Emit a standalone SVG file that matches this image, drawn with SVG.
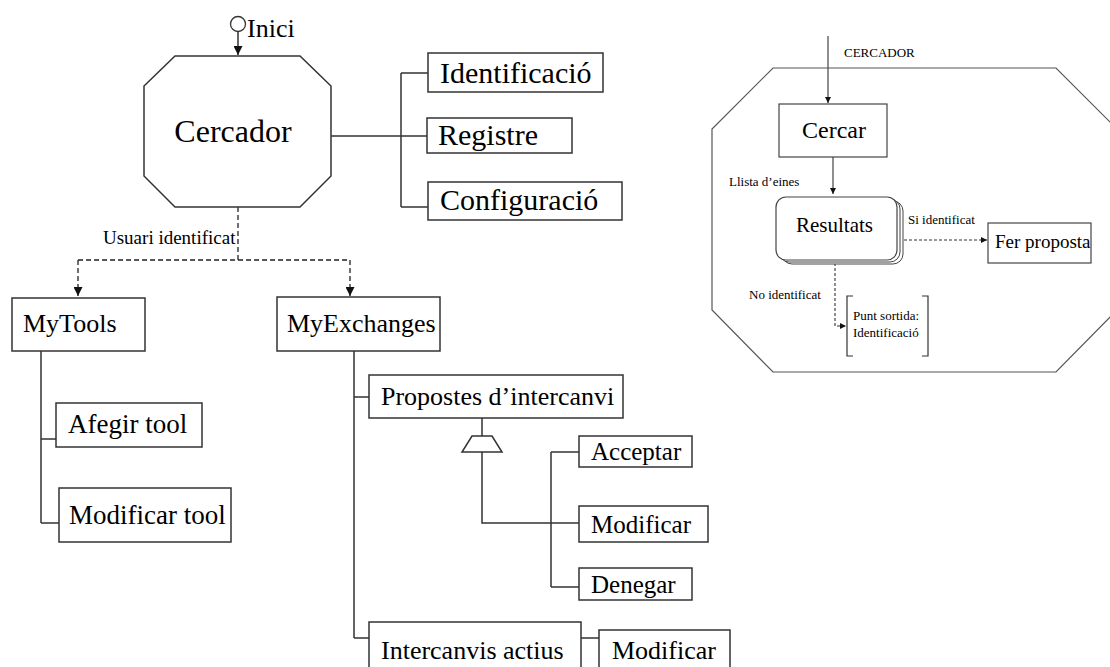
<svg xmlns="http://www.w3.org/2000/svg" width="1110" height="667" viewBox="0 0 1110 667">
<style>
.t{font-family:"Liberation Serif","DejaVu Serif","Noto Serif",serif;fill:#000}
.box{fill:#fff;stroke:#333;stroke-width:1.5}
.ln{fill:none;stroke:#333;stroke-width:1.5}
.dash{fill:none;stroke:#222;stroke-width:1.3;stroke-dasharray:5,3}
.thin{fill:none;stroke:#444;stroke-width:1.2}
.sdash{fill:none;stroke:#333;stroke-width:1.1;stroke-dasharray:3,2}
</style>
<defs>
<marker id="ah" viewBox="0 0 10 10" refX="10" refY="5" markerWidth="9" markerHeight="9" markerUnits="userSpaceOnUse" orient="auto">
<path d="M0,0 L10,5 L0,10 Z" fill="#111"/>
</marker>
<marker id="ahs" viewBox="0 0 10 10" refX="10" refY="5" markerWidth="6" markerHeight="6" markerUnits="userSpaceOnUse" orient="auto">
<path d="M0,0 L10,5 L0,10 Z" fill="#111"/>
</marker>
</defs>

<g id="connectors">
<line class="ln" x1="238" y1="32" x2="238" y2="55" marker-end="url(#ah)"/>
<path class="ln" d="M331,136 H401 M401,73 V207 M401,73 H428 M401,136 H427 M401,207 H428"/>
<path class="dash" d="M238,207 V260 M78,260 H350"/>
<line class="dash" x1="78" y1="260" x2="78" y2="296" marker-end="url(#ah)"/>
<line class="dash" x1="350" y1="260" x2="350" y2="296" marker-end="url(#ah)"/>
<path class="ln" d="M41,351 V523 M41,439 H56 M41,523 H59"/>
<path class="ln" d="M354,351 V638 M354,397 H369 M354,638 H369"/>
<path class="ln" d="M482,418 V436 M482,452 V523 H579"/>
<path class="ln" d="M551,452 V587 M551,452 H579 M551,587 H579"/>
<path class="ln" d="M581,638 H599"/>
<line class="thin" x1="828" y1="36" x2="828" y2="103" marker-end="url(#ahs)"/>
<line class="thin" x1="833" y1="157" x2="833" y2="194" marker-end="url(#ahs)"/>
<line class="sdash" x1="899" y1="240" x2="987" y2="240" marker-end="url(#ahs)"/>
<path class="sdash" d="M835,263 V326 H846" marker-end="url(#ahs)"/>
</g>

<g id="inici">
<circle cx="238" cy="24" r="7.5" fill="#fff" stroke="#333" stroke-width="1.3"/>
<text class="t" x="247" y="37" font-size="26">Inici</text>
</g>

<g id="cercador">
<polygon class="box" points="175,56 300,56 331,86 331,176 300,207 175,207 144,176 144,86"/>
<text class="t" x="233" y="142" font-size="32" text-anchor="middle">Cercador</text>
</g>

<g id="identificacio">
<rect class="box" x="428" y="53" width="175" height="39"/>
<text class="t" x="440" y="83" font-size="30">Identificació</text>
</g>
<g id="registre">
<rect class="box" x="427" y="118" width="145" height="35"/>
<text class="t" x="438" y="145" font-size="30">Registre</text>
</g>
<g id="configuracio">
<rect class="box" x="428" y="182" width="194" height="38"/>
<text class="t" x="440" y="210" font-size="30">Configuració</text>
</g>

<g id="usuari-label">
<text class="t" x="103" y="244" font-size="19">Usuari identificat</text>
</g>

<g id="mytools">
<rect class="box" x="12" y="298" width="133" height="53"/>
<text class="t" x="23" y="332" font-size="26">MyTools</text>
</g>
<g id="myexchanges">
<rect class="box" x="277" y="297" width="163" height="54"/>
<text class="t" x="287" y="332" font-size="26">MyExchanges</text>
</g>

<g id="afegir">
<rect class="box" x="56" y="403" width="146" height="44"/>
<text class="t" x="68" y="433" font-size="27">Afegir tool</text>
</g>
<g id="modificar-tool">
<rect class="box" x="59" y="488" width="172" height="54"/>
<text class="t" x="69" y="524" font-size="27">Modificar tool</text>
</g>

<g id="propostes">
<rect class="box" x="369" y="375" width="254" height="43"/>
<text class="t" x="381" y="405" font-size="26">Propostes d’intercanvi</text>
</g>
<g id="trapezi">
<polygon class="box" stroke-width="1.3" points="472,436 492,436 502,452 462,452"/>
</g>
<g id="acceptar">
<rect class="box" x="579" y="436" width="113" height="31"/>
<text class="t" x="591" y="460" font-size="25">Acceptar</text>
</g>
<g id="modificar">
<rect class="box" x="579" y="506" width="129" height="36"/>
<text class="t" x="591" y="533" font-size="25">Modificar</text>
</g>
<g id="denegar">
<rect class="box" x="579" y="568" width="113" height="32"/>
<text class="t" x="591" y="593" font-size="25">Denegar</text>
</g>
<g id="intercanvis">
<rect class="box" x="369" y="622" width="212" height="60"/>
<text class="t" x="381" y="659" font-size="26">Intercanvis actius</text>
</g>
<g id="modificar2">
<rect class="box" x="599" y="630" width="131" height="45"/>
<text class="t" x="612" y="659" font-size="26">Modificar</text>
</g>

<g id="panel">
<polygon fill="none" stroke="#555" stroke-width="1.2" points="773,68 1056,68 1117,129 1117,310 1056,372 773,372 712,310 712,129"/>
<text class="t" x="844" y="57" font-size="13">CERCADOR</text>
</g>
<g id="cercar">
<rect x="779" y="104" width="108" height="53" fill="#fff" stroke="#444" stroke-width="1.2"/>
<text class="t" x="802" y="138" font-size="24">Cercar</text>
</g>
<g id="llista-label">
<text class="t" x="729" y="186" font-size="13">Llista  d’eines</text>
</g>
<g id="resultats">
<rect x="782" y="201" width="121" height="63" rx="10" fill="#fff" stroke="#444" stroke-width="1"/>
<rect x="779" y="199" width="121" height="63" rx="10" fill="#fff" stroke="#444" stroke-width="1"/>
<rect x="776" y="197" width="121" height="63" rx="10" fill="#fff" stroke="#444" stroke-width="1.2"/>
<text class="t" x="796" y="232" font-size="21">Resultats</text>
</g>
<g id="si-label">
<text class="t" x="908" y="224" font-size="13">Si identificat</text>
</g>
<g id="fer-proposta">
<rect x="988" y="223" width="103" height="40" fill="#fff" stroke="#444" stroke-width="1.2"/>
<text class="t" x="995" y="248" font-size="19">Fer proposta</text>
</g>
<g id="no-label">
<text class="t" x="749" y="299" font-size="13">No identificat</text>
</g>
<g id="punt-sortida">
<path fill="none" stroke="#333" stroke-width="1.2" d="M853,296 H847 V356 H853 M922,296 H928 V356 H922"/>
<text class="t" x="853" y="320" font-size="13">Punt  sortida:</text>
<text class="t" x="853" y="337" font-size="13">Identificació</text>
</g>
</svg>
